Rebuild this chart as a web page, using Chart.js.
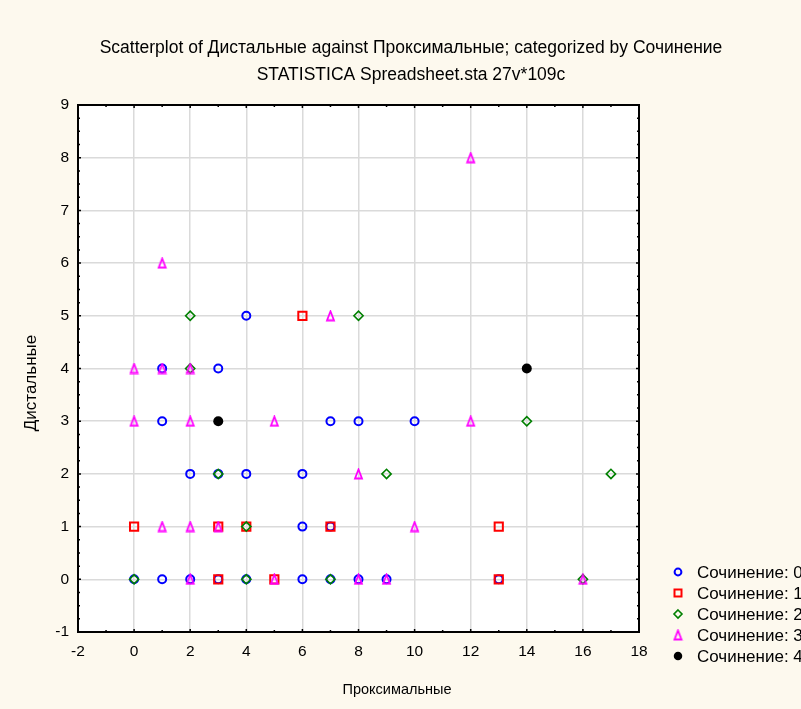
<!DOCTYPE html>
<html>
<head>
<meta charset="utf-8">
<script src="https://cdn.jsdelivr.net/npm/chart.js@4.4.0/dist/chart.umd.min.js"></script>
<style>
  html, body { margin: 0; padding: 0; background: #fdf9ee; }
  canvas { display: block; }
</style>
</head>
<body>
<div style="width:801px;height:709px"><canvas id="chart"></canvas></div>
<script>
// заголовки и подписи
const titleLines = [
    'Scatterplot of Дистальные against Проксимальные; categorized by Сочинение',
    'STATISTICA Spreadsheet.sta 27v*109c'
];
const xTitle = 'Проксимальные';
const yTitle = 'Дистальные';
const seriesNames = ['Сочинение: 0', 'Сочинение: 1', 'Сочинение: 2', 'Сочинение: 3', 'Сочинение: 4'];

// точки [Проксимальные, Дистальные]
const series0 = [[0,0],[1,0],[2,0],[3,0],[4,0],[6,0],[7,0],[8,0],[9,0],[13,0],
                 [6,1],[7,1],[2,2],[3,2],[4,2],[6,2],[1,3],[7,3],[8,3],[10,3],[1,4],[3,4],[4,5]];
const series1 = [[3,0],[5,0],[13,0],[0,1],[3,1],[4,1],[7,1],[13,1],[6,5]];
const series2 = [[0,0],[4,0],[7,0],[16,0],[4,1],[3,2],[9,2],[17,2],[14,3],[2,4],[2,5],[8,5]];
const series3 = [[2,0],[5,0],[8,0],[9,0],[16,0],[1,1],[2,1],[3,1],[10,1],[8,2],
                 [0,3],[2,3],[5,3],[12,3],[0,4],[1,4],[2,4],[7,5],[1,6],[12,8]];
const series4 = [[3,3],[14,4]];

const xMin = -2, xMax = 18, xStep = 2;
const yMin = -1, yMax = 9, yStep = 1;

const FONT = '"Liberation Sans", Arial, sans-serif';

// треугольник как в STATISTICA (узкий и высокий)
function makeTriangle() {
    const c = document.createElement('canvas');
    c.width = 11; c.height = 12;
    const g = c.getContext('2d');
    g.strokeStyle = '#ff00ff';
    g.lineWidth = 1.8;
    g.beginPath();
    g.moveTo(5.5, 1.5);
    g.lineTo(9, 10.5);
    g.lineTo(2, 10.5);
    g.closePath();
    g.stroke();
    return c;
}
const triangleImg = makeTriangle();

const styles = [
    { pointStyle: 'circle', radius: 4, borderColor: '#0000ff', backgroundColor: 'rgba(0,0,0,0)', borderWidth: 2 },
    { pointStyle: 'rect', radius: 5.8, borderColor: '#ff0000', backgroundColor: 'rgba(0,0,0,0)', borderWidth: 2 },
    { pointStyle: 'rectRot', radius: 4.6, borderColor: '#008000', backgroundColor: 'rgba(0,0,0,0)', borderWidth: 1.6 },
    { pointStyle: triangleImg, radius: 6, borderColor: '#ff00ff', backgroundColor: '#ff00ff', borderWidth: 0 },
    { pointStyle: 'circle', radius: 5, borderColor: '#000000', backgroundColor: '#000000', borderWidth: 0 }
];

const allSeries = [series0, series1, series2, series3, series4];

const datasets = allSeries.map((pts, i) => ({
    label: seriesNames[i],
    data: pts.map(p => ({ x: p[0], y: p[1] })),
    pointStyle: styles[i].pointStyle,
    pointRadius: styles[i].radius,
    pointHoverRadius: styles[i].radius,
    pointBorderColor: styles[i].borderColor,
    pointBackgroundColor: styles[i].backgroundColor,
    pointBorderWidth: styles[i].borderWidth,
    order: 4 - i
}));

// фон, рамка, мелкие риски, тексты
const decorPlugin = {
    id: 'decor',
    beforeDraw(chart) {
        const ctx = chart.ctx;
        const a = chart.chartArea;
        ctx.save();
        ctx.fillStyle = '#fdf9ee';
        ctx.fillRect(0, 0, chart.width, chart.height);
        ctx.fillStyle = '#ffffff';
        ctx.fillRect(a.left, a.top, a.right - a.left, a.bottom - a.top);
        ctx.restore();
    },
    afterDraw(chart) {
        const ctx = chart.ctx;
        const a = chart.chartArea;
        const xs = chart.scales.x, ys = chart.scales.y;
        ctx.save();

        // риски внутрь
        ctx.strokeStyle = '#000';
        ctx.lineWidth = 1.5;
        ctx.beginPath();
        for (let v = xMin; v <= xMax; v += 1) {
            const px = xs.getPixelForValue(v);
            const len = (v % xStep === 0) ? 3 : 2;
            ctx.moveTo(px, a.bottom); ctx.lineTo(px, a.bottom - len);
            ctx.moveTo(px, a.top); ctx.lineTo(px, a.top + len);
        }
        for (let v = yMin; v <= yMax + 0.001; v += 0.25) {
            const py = ys.getPixelForValue(v);
            const len = (Math.abs(v - Math.round(v)) < 0.01) ? 3 : 2;
            ctx.moveTo(a.left, py); ctx.lineTo(a.left + len, py);
            ctx.moveTo(a.right, py); ctx.lineTo(a.right - len, py);
        }
        ctx.stroke();

        // рамка
        ctx.lineWidth = 2;
        ctx.strokeRect(a.left, a.top, a.right - a.left, a.bottom - a.top);

        // заголовок
        ctx.fillStyle = '#000';
        ctx.textAlign = 'center';
        ctx.textBaseline = 'middle';
        ctx.font = '17.5px ' + FONT;
        ctx.fillText(titleLines[0], 411, 48);
        ctx.fillText(titleLines[1], 411, 75);

        // подписи осей
        ctx.font = '14.5px ' + FONT;
        ctx.fillText(xTitle, 397, 690);
        ctx.save();
        ctx.font = '17px ' + FONT;
        ctx.translate(31, 383);
        ctx.rotate(-Math.PI / 2);
        ctx.fillText(yTitle, 0, 0);
        ctx.restore();

        // легенда
        ctx.textAlign = 'left';
        ctx.font = '17px ' + FONT;
        seriesNames.forEach((name, i) => {
            const ly = 572 + i * 21;
            const st = styles[i];
            if (st.pointStyle instanceof HTMLCanvasElement) {
                ctx.drawImage(st.pointStyle, 678 - 5.5, ly - 6);
            } else {
                ctx.save();
                ctx.lineWidth = st.borderWidth;
                ctx.strokeStyle = st.borderColor;
                ctx.fillStyle = st.backgroundColor;
                ctx.beginPath();
                if (st.pointStyle === 'circle') {
                    ctx.arc(678, ly, st.radius * 0.85, 0, Math.PI * 2);
                } else if (st.pointStyle === 'rect') {
                    ctx.rect(678 - 3.5, ly - 3.5, 7, 7);
                } else {
                    ctx.moveTo(678, ly - 4); ctx.lineTo(682, ly); ctx.lineTo(678, ly + 4); ctx.lineTo(674, ly); ctx.closePath();
                }
                ctx.fill();
                if (st.borderWidth > 0) ctx.stroke();
                ctx.restore();
            }
            ctx.fillStyle = '#000';
            ctx.fillText(name, 697, ly + 1);
        });
        ctx.restore();
    }
};

new Chart(document.getElementById('chart'), {
    type: 'scatter',
    data: { datasets: datasets },
    plugins: [decorPlugin],
    options: {
        responsive: true,
        maintainAspectRatio: false,
        animation: false,
        layout: { padding: { left: 0, top: 105, right: 162, bottom: 0 } },
        plugins: {
            legend: { display: false },
            title: { display: false },
            tooltip: { enabled: false }
        },
        scales: {
            x: {
                type: 'linear',
                min: xMin, max: xMax,
                afterFit(scale) { scale.height = 77; },
                ticks: { stepSize: xStep, color: '#000', font: { family: FONT, size: 15.5 }, padding: 10, maxRotation: 0 },
                grid: { color: '#dadada', lineWidth: 1.5, drawTicks: false },
                border: { display: false }
            },
            y: {
                type: 'linear',
                min: yMin, max: yMax,
                afterFit(scale) { scale.width = 78; },
                ticks: { stepSize: yStep, color: '#000', font: { family: FONT, size: 15.5 }, padding: 9 },
                grid: { color: '#dadada', lineWidth: 1.5, drawTicks: false },
                border: { display: false }
            }
        }
    }
});
</script>
</body>
</html>
